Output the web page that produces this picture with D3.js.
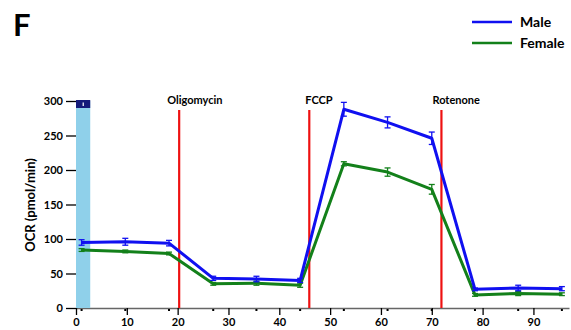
<!DOCTYPE html>
<html>
<head>
<meta charset="utf-8">
<script src="https://cdn.jsdelivr.net/npm/d3@7"></script>
<style>
  body { margin: 0; background: #fff; }
  text { font-family: Lato, "Open Sans", sans-serif; font-weight: bold; }
</style>
</head>
<body>
<div id="chart"></div>
<script>
"use strict";

// measurement times (min)
var times = [1.1, 9.7, 18.3, 27, 35.5, 44.1, 52.7, 61.3, 70, 78.5, 87, 95.6];
var maleOCR = [95, 96, 94, 43, 42, 40, 288, 269, 246, 27, 29, 28];
var maleErr = [4, 5, 4, 3, 4, 3, 10, 8, 9, 2, 4, 3];
var femaleOCR = [84, 82, 79, 35, 36, 33, 209, 197, 172, 19, 21, 20];
var femaleErr = [2, 2, 2, 2, 3, 3, 3, 6, 7, 2, 3, 2];
var injections = ["Oligomycin", "FCCP", "Rotenone"];
var injectionTimes = [20.3, 45.9, 71.9];
var xTicks = [0, 10, 20, 30, 40, 50, 60, 70, 80, 90];
var yTicks = [0, 50, 100, 150, 200, 250, 300];
var baselineBand = [0, 2.8];

var width = 571, height = 330;
var svg = d3.select("#chart").append("svg").attr("width", width).attr("height", height);

var x = d3.scaleLinear().domain([0, 97]).range([76, 569]);
var y = d3.scaleLinear().domain([0, 300]).range([308, 101]);

// panel letter
svg.append("text").attr("x", 13).attr("y", 36).style("font-size", "31px").text("F");

// y axis
var gY = svg.append("g").attr("transform", "translate(" + x(0) + ",0)")
  .call(d3.axisLeft(y).tickValues(yTicks).tickSize(10).tickPadding(3));
gY.selectAll("text").style("font-size", "11px").style("fill", "#000");
gY.selectAll("line").attr("stroke", "#000").attr("stroke-width", 1.3);
gY.select(".domain").remove();

// x axis
var gX = svg.append("g").attr("transform", "translate(0," + y(0) + ")")
  .call(d3.axisBottom(x).tickValues(xTicks).tickSize(7).tickSizeOuter(0).tickPadding(3));
gX.selectAll("text").style("font-size", "11px").style("fill", "#000");
gX.selectAll("line").attr("stroke", "#000").attr("stroke-width", 1.3);
gX.select(".domain").attr("stroke", "#666").attr("stroke-width", 1.3);

// small marks at measurement times
svg.append("g").selectAll("rect").data(times).enter().append("rect")
  .attr("x", function (d) { return x(d) - 1; })
  .attr("y", y(0) + 1)
  .attr("width", 2).attr("height", 2).attr("fill", "#000");

// baseline band
svg.append("rect")
  .attr("x", x(baselineBand[0])).attr("width", x(baselineBand[1]) - x(baselineBand[0]))
  .attr("y", y(300)).attr("height", y(0) - y(300))
  .attr("fill", "#8fd0ea");
svg.append("rect")
  .attr("x", x(baselineBand[0])).attr("width", x(baselineBand[1]) - x(baselineBand[0]))
  .attr("y", y(300) - 1).attr("height", 8)
  .attr("fill", "#141a7a");
svg.append("rect")
  .attr("x", (x(baselineBand[0]) + x(baselineBand[1])) / 2 - 0.5).attr("width", 1.2)
  .attr("y", y(300) + 1.5).attr("height", 3.5)
  .attr("fill", "#fff");

// injection lines
svg.append("g").selectAll("line").data(injectionTimes).enter().append("line")
  .attr("x1", function (d) { return x(d); }).attr("x2", function (d) { return x(d); })
  .attr("y1", 110).attr("y2", y(0))
  .attr("stroke", "#ee1111").attr("stroke-width", 2.2);

var labelDx = [-12, -4, -9];
svg.append("g").selectAll("text").data(injections).enter().append("text")
  .attr("x", function (d, i) { return x(injectionTimes[i]) + labelDx[i]; })
  .attr("y", 104)
  .style("font-size", "11px")
  .text(function (d) { return d; });

function drawSeries(vals, errs, color) {
  var pts = times.map(function (t, i) { return { t: t, v: vals[i], e: errs[i] }; });
  var line = d3.line().x(function (d) { return x(d.t); }).y(function (d) { return y(d.v); });
  svg.append("path").datum(pts)
    .attr("d", line).attr("fill", "none")
    .attr("stroke", color).attr("stroke-width", 3).attr("stroke-linejoin", "round");
  var g = svg.append("g").selectAll("g").data(pts).enter().append("g");
  g.append("line")
    .attr("x1", function (d) { return x(d.t); }).attr("x2", function (d) { return x(d.t); })
    .attr("y1", function (d) { return y(d.v + d.e); }).attr("y2", function (d) { return y(d.v - d.e); })
    .attr("stroke", color).attr("stroke-width", 1.3);
  g.append("line")
    .attr("x1", function (d) { return x(d.t) - 3; }).attr("x2", function (d) { return x(d.t) + 3; })
    .attr("y1", function (d) { return y(d.v + d.e); }).attr("y2", function (d) { return y(d.v + d.e); })
    .attr("stroke", color).attr("stroke-width", 1.3);
  g.append("line")
    .attr("x1", function (d) { return x(d.t) - 3; }).attr("x2", function (d) { return x(d.t) + 3; })
    .attr("y1", function (d) { return y(d.v - d.e); }).attr("y2", function (d) { return y(d.v - d.e); })
    .attr("stroke", color).attr("stroke-width", 1.3);
}

drawSeries(femaleOCR, femaleErr, "#13801a");
drawSeries(maleOCR, maleErr, "#1010f0");

// y label
svg.append("text")
  .attr("transform", "translate(35,205) rotate(-90)")
  .attr("text-anchor", "middle")
  .style("font-size", "13px")
  .text("OCR (pmol/min)");

// legend
var legendNames = ["Male", "Female"];
var legendColors = ["#1010f0", "#13801a"];
var lg = svg.append("g").selectAll("g").data(legendNames).enter().append("g")
  .attr("transform", function (d, i) { return "translate(472," + (22 + i * 21) + ")"; });
lg.append("line").attr("x1", 0).attr("x2", 40).attr("y1", 0).attr("y2", 0)
  .attr("stroke", function (d, i) { return legendColors[i]; }).attr("stroke-width", 2.5);
lg.append("text").attr("x", 48).attr("y", 5).style("font-size", "14px").text(function (d) { return d; });
</script>
</body>
</html>
